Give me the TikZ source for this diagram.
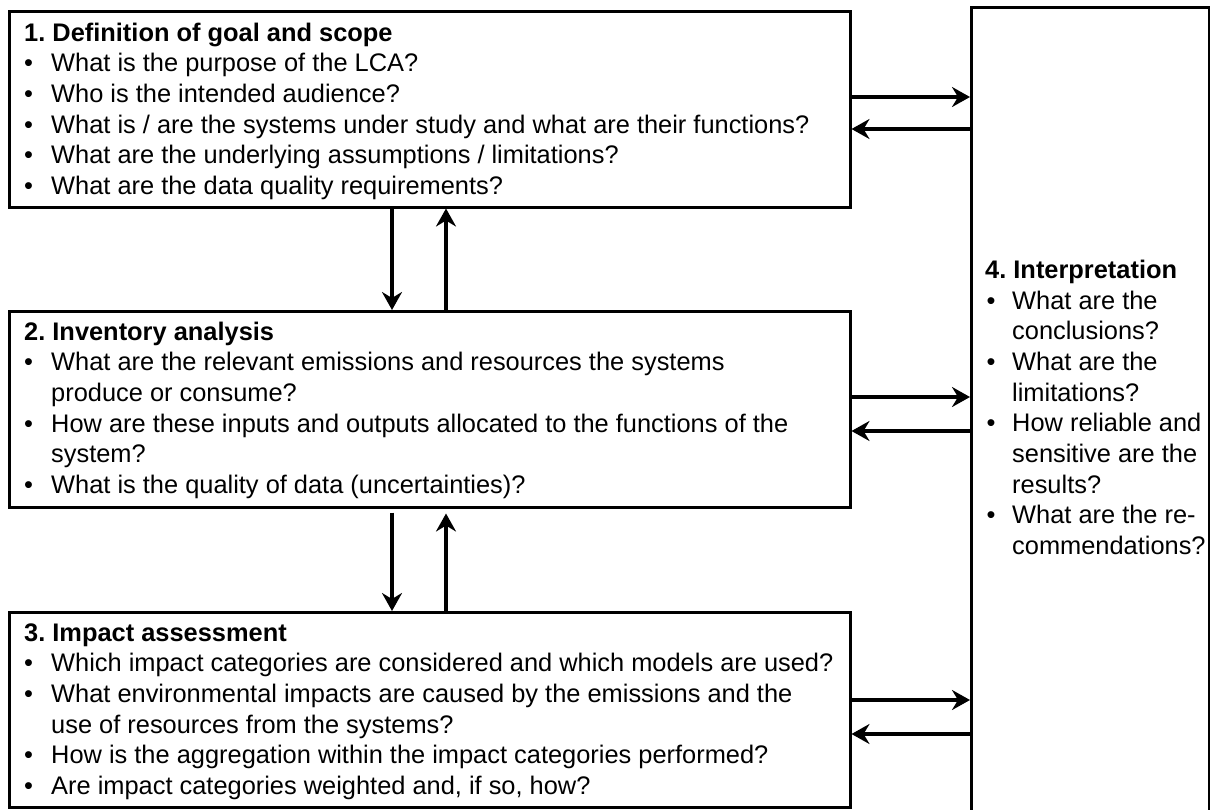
\documentclass[tikz,border=0pt]{standalone}
\usepackage{fontspec}
\setmainfont{Liberation Sans}
\usetikzlibrary{arrows.meta}
\frenchspacing
\newcommand\tl[4]{\node[txt] (#1) at (#2,#3) {#4};}
\newcommand\bl[4]{\node[txt] (#1) at (#2,#3) {\makebox[27pt][l]{•}#4};}
\newcommand\blr[4]{\node[txt] (#1) at (#2,#3) {\makebox[25.5pt][l]{•}#4};}
\newcommand\ttl[4]{\node[txt,font=\fontsize{25.4}{30}\selectfont\bfseries] (#1) at (#2,#3) {#4};}
\begin{document}
\begin{tikzpicture}[x=1pt,y=-1pt,
  box/.style={draw, line width=2.5pt, anchor=north west, inner sep=0pt, rectangle},
  txt/.style={anchor=base west, inner sep=0pt, font=\fontsize{25.4}{30}\selectfont},
  arr/.style={line width=4pt, -{Stealth[length=18pt,width=20pt,inset=6pt]}}]
\useasboundingbox (0,0) rectangle (1210,809);
% boxes
\node[box, minimum width=841pt, minimum height=196pt] (b1) at (8,10) {};
\node[box, minimum width=841pt, minimum height=196pt] (b2) at (8,310) {};
\node[box, minimum width=841pt, minimum height=195pt] (b3) at (8,611) {};
\node[box, minimum width=238pt, minimum height=830pt] (b4) at (970,6) {};
% box 1
\ttl{t10}{24}{41}{1. Definition of goal and scope}
\bl{t11}{24}{71.7}{What is the purpose of the LCA?}
\bl{t12}{24}{102.4}{Who is the intended audience?}
\bl{t13}{24}{133.1}{What is / are the systems under study and what are their functions?}
\bl{t14}{24}{163.8}{What are the underlying assumptions / limitations?}
\bl{t15}{24}{194.5}{What are the data quality requirements?}
% box 2
\ttl{t20}{24}{340}{2. Inventory analysis}
\bl{t21}{24}{370.7}{What are the relevant emissions and resources the systems}
\tl{t22}{51}{401.4}{produce or consume?}
\bl{t23}{24}{432.1}{How are these inputs and outputs allocated to the functions of the}
\tl{t24}{51}{462.8}{system?}
\bl{t25}{24}{493.5}{What is the quality of data (uncertainties)?}
% box 3
\ttl{t30}{24}{641}{3. Impact assessment}
\bl{t31}{24}{671.7}{Which impact categories are considered and which models are used?}
\bl{t32}{24}{702.4}{What environmental impacts are caused by the emissions and the}
\tl{t33}{51}{733.1}{use of resources from the systems?}
\bl{t34}{24}{763.8}{How is the aggregation within the impact categories performed?}
\bl{t35}{24}{794.5}{Are impact categories weighted and, if so, how?}
% box 4
\ttl{t40}{985}{278}{4. Interpretation}
\blr{t41}{986.5}{309}{What are the}
\tl{t42}{1012}{339.7}{conclusions?}
\blr{t43}{986.5}{370.4}{What are the}
\tl{t44}{1012}{401.1}{limitations?}
\blr{t45}{986.5}{431.8}{How reliable and}
\tl{t46}{1012}{462.5}{sensitive are the}
\tl{t47}{1012}{493.2}{results?}
\blr{t48}{986.5}{523.9}{What are the re-}
\tl{t49}{1012}{554.6}{commendations?}
% vertical arrows
\coordinate (xd) at (392,0);
\coordinate (xu) at (446,0);
\draw[arr] (xd |- b1.south) -- (xd |- b2.north);
\draw[arr] (xu |- b2.north) -- (xu |- b1.south);
\draw[arr, shorten <=4pt] (xd |- b2.south) -- (xd |- b3.north);
\draw[arr, shorten >=5pt] (xu |- b3.north) -- (xu |- b2.south);
% horizontal arrows
\draw[arr] (b1.east |- 0,97) -- (b4.west |- 0,97);
\draw[arr] (b4.west |- 0,129) -- (b1.east |- 0,129);
\draw[arr] (b2.east |- 0,397) -- (b4.west |- 0,397);
\draw[arr] (b4.west |- 0,431) -- (b2.east |- 0,431);
\draw[arr] (b3.east |- 0,700) -- (b4.west |- 0,700);
\draw[arr] (b4.west |- 0,734) -- (b3.east |- 0,734);
\end{tikzpicture}
\end{document}
